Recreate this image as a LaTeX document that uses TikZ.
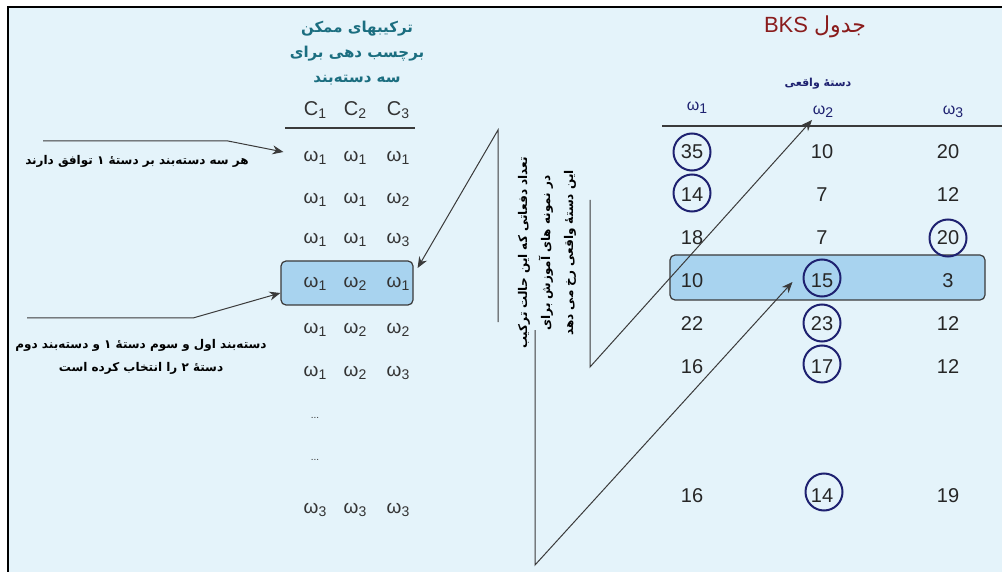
\documentclass[tikz,border=0pt]{standalone}
\usepackage{fontspec}
\setmainfont{Liberation Sans}
\newfontfamily\fa[Script=Arabic]{DejaVu Sans}
\TeXXeTstate=1
\usetikzlibrary{arrows.meta, positioning}
\usepackage{xcolor}

\definecolor{bgblue}{HTML}{E4F3FA}
\definecolor{hlblue}{HTML}{A8D3EF}
\definecolor{titleteal}{HTML}{1B6E80}
\definecolor{navy}{HTML}{1E2170}
\definecolor{bksred}{HTML}{8A1C1C}
\definecolor{linegray}{HTML}{3A3A3A}

\newcommand{\om}[1]{ω\raisebox{-0.35ex}{\fontsize{14}{14}\selectfont #1}}
\newcommand{\cls}[1]{C\raisebox{-0.35ex}{\fontsize{14}{14}\selectfont #1}}

\begin{document}
\begin{tikzpicture}[
    x=1pt, y=-1pt,
    cell/.style={inner sep=0pt, text=black!80, font=\fontsize{19}{19}\selectfont},
    num/.style={inner sep=0pt, text=black!85, font=\fontsize{20}{20}\selectfont},
    ring/.style={circle, draw=navy, line width=2pt, minimum size=37pt, inner sep=0pt},
    hlbox/.style={draw=linegray, fill=hlblue, rounded corners=5pt, line width=1.2pt},
    remark/.style={inner sep=0pt, align=center, font=\fa\bfseries\fontsize{12}{23}\selectfont},
    heading/.style={inner sep=0pt, align=center, text=titleteal, font=\fa\bfseries\fontsize{15}{25}\selectfont},
    arrow/.style={-{Stealth[length=11pt, width=9pt]}, line width=1pt, draw=linegray},
    rule/.style={line width=2.2pt, draw=linegray},
]
\useasboundingbox (0,0) rectangle (1002,572);
\fill[white] (0,0) rectangle (1002,572);
\fill[bgblue] (8,7) rectangle (1002,572);
\draw[line width=2.5pt] (8,572) -- (8,7) -- (1002,7);

% left table: label combinations
\node[heading] (ttl) at (357,53)
     {\beginR ترکیبهای ممکن\endR\\\beginR برچسب دهی برای\endR\\\beginR سه دسته‌بند\endR};
\node[cell, font=\fontsize{20}{20}\selectfont] (cc1) at (315,110) {\cls{1}};
\node[cell, font=\fontsize{20}{20}\selectfont] (cc2) at (355,110) {\cls{2}};
\node[cell, font=\fontsize{20}{20}\selectfont] (cc3) at (398,110) {\cls{3}};
\draw[rule] (285,128) -- (415,128);
\node[hlbox, minimum width=132pt, minimum height=44pt] (lhl) at (347,283) {};
\foreach \y/\a/\b/\c [count=\r] in {158/1/1/1, 200/1/1/2, 240/1/1/3, 284/1/2/1,
                                    330/1/2/2, 373/1/2/3, 510/3/3/3} {
  \node[cell] (c\r1) at (315,\y) {\om{\a}};
  \node[cell] (c\r2) at (355,\y) {\om{\b}};
  \node[cell] (c\r3) at (398,\y) {\om{\c}};
}
\node[cell, font=\fontsize{10}{10}\selectfont] (dots1) at (315,418) {...};
\node[cell, font=\fontsize{10}{10}\selectfont] (dots2) at (315,460) {...};

% notes on the left
\node[remark] (rem1) at (137,161)
     {\beginR هر سه دسته‌بند بر دستهٔ ۱ توافق دارند\endR};
\node[remark] (rem2) at (141,357)
     {\beginR دسته‌بند اول و سوم دستهٔ ۱ و دسته‌بند دوم\endR\\\beginR دستهٔ ۲ را انتخاب کرده است\endR};
\coordinate (a1) at (43,141);
\coordinate (a2) at (27,318);
\draw[arrow] (a1) -- (228,141) -- ([xshift=-20pt, yshift=6pt]c11.west);
\draw[arrow] (a2) -- (193,318) -- ([yshift=-10pt]lhl.west);

% right table: BKS
\node[inner sep=0pt, text=bksred, font=\fontsize{22}{22}\selectfont] (bks) at (815,27)
     {\beginR{\fa جدول} BKS\endR};
\node[inner sep=0pt, text=navy, font=\fa\bfseries\fontsize{11}{11}\selectfont] (real) at (818,84)
     {\beginR دستهٔ واقعی\endR};
\node[cell, text=navy, font=\fontsize{16}{16}\selectfont] (h1) at (697,108) {\om{1}};
\node[cell, text=navy, font=\fontsize{16}{16}\selectfont] (h2) at (823,112) {\om{2}};
\node[cell, text=navy, font=\fontsize{16}{16}\selectfont] (h3) at (953,112) {\om{3}};
\draw[rule] (662,126) -- (1002,126);
\node[hlbox, minimum width=315pt, minimum height=45pt] (rhl) at (827.5,277.5) {};
\foreach \y/\a/\b/\c [count=\r] in {152/35/10/20, 195/14/7/12, 238/18/7/20, 281/10/15/3,
                                    324/22/23/12, 367/16/17/12, 496/16/14/19} {
  \node[num] (k\r1) at (692,\y) {\a};
  \node[num] (k\r2) at (822,\y) {\b};
  \node[num] (k\r3) at (948,\y) {\c};
}
\node[ring] (r11) at (k11) {};
\node[ring] (r21) at ([yshift=2pt]k21) {};
\node[ring] (r33) at (k33) {};
\node[ring] (r42) at ([yshift=3pt]k42) {};
\node[ring] (r52) at ([yshift=1pt]k52) {};
\node[ring] (r62) at ([yshift=3pt]k62) {};
\node[ring] (r72) at ([xshift=2pt, yshift=4pt]k72) {};

% middle: counts note and zigzags
\node[remark, rotate=90] (note) at (547,253)
     {\beginR تعداد دفعاتی که این حالت ترکیب\endR\\\beginR در نمونه های آموزش برای\endR\\\beginR این دستهٔ واقعی رخ می دهد\endR};
\coordinate (z1) at (498,322);
\coordinate (z2) at (590,200);
\coordinate (z3) at (535,330);
\draw[arrow] (z1) -- (498,130) -- ([xshift=4pt, yshift=15pt]lhl.east);
\draw[arrow] (z2) -- (590,367) -- ([xshift=-11pt, yshift=-2pt]h2.south);
\draw[arrow] (z3) -- (535,565) -- ([xshift=-10pt, yshift=-4pt]r42.west);
\end{tikzpicture}
\end{document}
